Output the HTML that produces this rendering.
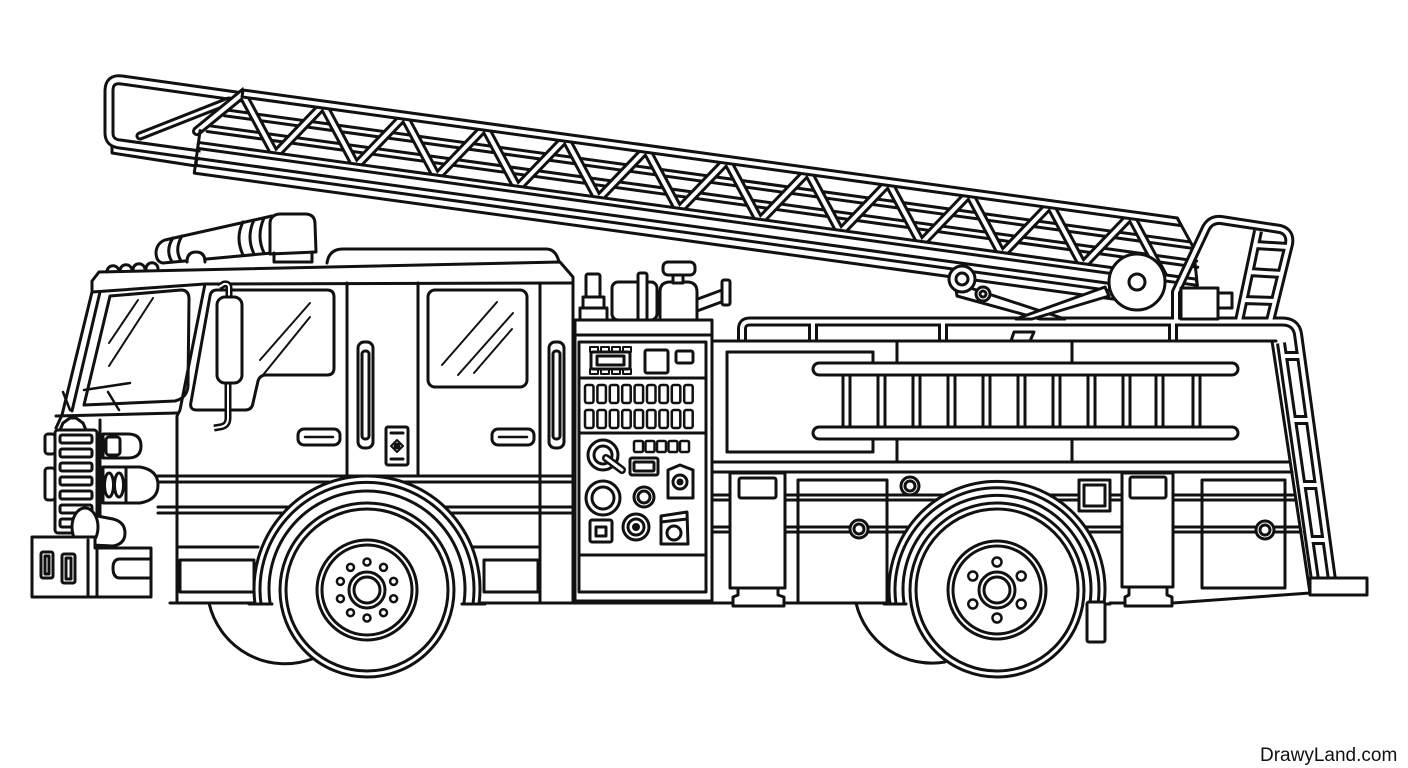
<!DOCTYPE html>
<html><head><meta charset="utf-8"><style>
html,body{margin:0;padding:0;background:#fff;}
svg{display:block}
</style></head><body>
<svg width="1408" height="768" viewBox="0 0 1408 768" xmlns="http://www.w3.org/2000/svg">
<defs>
<clipPath id="tc"><polygon points="-45,-3 0,-3 0,6 947,6 968,40 971,59 -45,59"/></clipPath>
</defs>
<rect width="1408" height="768" fill="#fff"/>
<g fill="none" stroke="#111" stroke-width="3" stroke-linejoin="round" stroke-linecap="round">

<!-- ===== LADDER: rear loop ===== -->
<polygon points="112,140 197,152 196,166 112,153" fill="#fff"/>
<path d="M243,97 L122,80 Q109,78 109,91 L109,133 Q109,143 120,144 L200,155" stroke-width="11" stroke-linecap="butt"/>
<path d="M243,97 L122,80 Q109,78 109,91 L109,133 Q109,143 120,144 L200,155" stroke="#fff" stroke-width="5" stroke-linecap="butt"/>
<path d="M140,136 L229,101" stroke-width="9"/>
<path d="M140,136 L229,101" stroke="#fff" stroke-width="3"/>

<!-- ===== LADDER main ===== -->
<g transform="translate(243,90) rotate(7.8)">
 <path d="M-15,22 L959,22 M-15,28 L963,28 M-30,40 L968,40 M-30,46 L970,46"/>
 <g clip-path="url(#tc)">
  <path d="M-40,47 L0,4 L40.75,60 L81.5,4 L122.25,60 L163,4 L203.75,60 L244.5,4 L285.25,60 L326,4 L366.75,60 L407.5,4 L448.25,60 L489,4 L529.75,60 L570.5,4 L611.25,60 L652,4 L692.75,60 L733.5,4 L774.25,60 L815,4 L855.75,60 L896.5,4 L937.25,60" stroke-width="10" stroke-linejoin="miter"/>
  <path d="M-40,47 L0,4 L40.75,60 L81.5,4 L122.25,60 L163,4 L203.75,60 L244.5,4 L285.25,60 L326,4 L366.75,60 L407.5,4 L448.25,60 L489,4 L529.75,60 L570.5,4 L611.25,60 L652,4 L692.75,60 L733.5,4 L774.25,60 L815,4 L855.75,60 L896.5,4 L937.25,60" stroke="#fff" stroke-width="4" stroke-linejoin="miter"/>
 </g>
 <path d="M0,0 L943,0 L948,7 L0,7 Z" fill="#fff"/>
 <path d="M-37,58 L970,58 L972,64 L-37,64 Z" fill="#fff"/>
 <path d="M943,0 L963,27 L972,64"/>
 <path d="M-37,46 L-37,89 L905,89 M-37,74 L905,74 M-37,81 L905,81"/>
</g>

<!-- ===== CAB ===== -->
<!-- light bar -->
<path d="M165,240 L272,216 L272,253 L163,263 Q156,262 156,252 Q157,243 165,240 Z" fill="#fff"/>
<path d="M270,254 L270,224 Q270,214 281,214 L305,214 Q315,214 315,224 L316,252 Z" fill="#fff"/>
<path d="M274,253 L274,262 L312,262 L312,252"/>
<path d="M173,238 Q165,250 172,262 M182,236 Q174,249 181,261 M243,222 Q235,238 243,255 M254,220 Q246,237 254,254 M264,218 Q256,236 264,253"/>
<path d="M187,262 Q187,252 196,252 Q205,252 205,262" fill="#fff"/>
<path d="M107,272 a6,6 0 0 1 12,-0.5 M120,271 a6,6 0 0 1 12,-0.5 M133,270 a6,6 0 0 1 12,-0.5 M146,269 a6,6 0 0 1 12,-0.5"/>
<!-- crew cab raised roof -->
<path d="M327,263 Q329,249 343,249 L546,249 Q556,249 559,262"/>
<!-- roof band -->
<path d="M92,292 L92,281 L99,272 L560,262 L573,277 L573,603"/>
<path d="M92,292 L205,284 L573,283"/>
<!-- front edge / pillar -->
<path d="M92,292 L62,415 L56,428"/>
<path d="M100,292 L72,411"/>
<!-- windshield -->
<path d="M110,296 L181,290 Q189,290 189,299 L188,386 Q187,398 175,401 L84,405 Z"/>
<path d="M109,343 L138,300 M109,366 L153,298" stroke-width="2"/>
<path d="M84,390 L130,383 M108,392 L119,410 M63,392 L70,410" stroke-width="2.5"/>
<!-- hood line & door -->
<path d="M56,416 L177,413"/>
<path d="M205,284 L180,410 L177,416 L177,603"/>
<!-- side window -->
<path d="M217,290 L327,290 Q334,290 334,297 L334,368 Q334,375 327,375 L266,375 Q260,375 258,381 L253,403 Q252,410 245,410 L197,410 Q189,410 191,402 L210,296 Q211,290 217,290 Z"/>
<path d="M260,360 L310,303 M263,375 L310,317" stroke-width="2"/>
<!-- mirror -->
<path d="M229,297 L229,288 Q229,283 224,284 L219,287 M228,383 L228,418 Q228,426 220,427 L214,428" stroke-width="7" stroke-linecap="butt"/>
<path d="M229,297 L229,288 Q229,283 224,284 L219,287 M228,383 L228,418 Q228,426 220,427 L214,428" stroke="#fff" stroke-width="2" stroke-linecap="butt"/>
<rect x="217" y="297" width="25" height="86" rx="8" fill="#fff"/>
<!-- driver door handle -->
<rect x="298" y="429" width="42" height="16" rx="6"/>
<path d="M305,437 L333,437" stroke-width="2.5"/>
<!-- grille -->
<path d="M60,430 L63,423 L70,418 L76,418 L83,423 L86,430"/>
<rect x="55" y="430" width="42" height="103" rx="3" fill="#fff"/>
<rect x="60" y="435" width="32" height="8" rx="2"/>
<rect x="60" y="449" width="32" height="8" rx="2"/>
<rect x="60" y="463" width="32" height="8" rx="2"/>
<rect x="60" y="477" width="32" height="8" rx="2"/>
<rect x="60" y="491" width="32" height="8" rx="2"/>
<rect x="60" y="505" width="32" height="8" rx="2"/>
<rect x="60" y="519" width="32" height="8" rx="2"/>
<rect x="45" y="434" width="10" height="20" rx="3"/>
<rect x="45" y="468" width="10" height="32" rx="3"/>
<path d="M100,420 L100,537"/>
<!-- lights -->
<path d="M103,434 L128,434 Q141,434 141,446 Q141,458 128,458 L103,458 Z" fill="#fff"/>
<rect x="106" y="437" width="14" height="18" rx="3"/>
<path d="M103,467 L140,467 Q158,470 158,485 Q158,500 140,503 L103,503 Z" fill="#fff"/>
<ellipse cx="109" cy="485" rx="4.5" ry="12"/>
<ellipse cx="119" cy="485" rx="4.5" ry="12"/>
<path d="M126,468 L126,502"/>
<!-- cab stripes -->
<path d="M158,476 L573,476 M158,482 L573,482 M158,507 L573,507 M158,513 L573,513"/>
<!-- fog light -->
<path d="M92,515 L113,519 Q125,522 125,533 Q125,544 113,546 L92,545 Z" fill="#fff"/>
<ellipse cx="85" cy="527" rx="13" ry="19" fill="#fff"/>
<!-- bumper -->
<path d="M32,537 L95,537 L95,548 L151,548 L151,597 L32,597 Z" fill="#fff"/>
<path d="M88,540 L88,597 M97,548 L97,597"/>
<rect x="41" y="552" width="12" height="26" rx="2"/>
<rect x="45" y="556" width="4" height="18"/>
<rect x="62" y="554" width="13" height="29" rx="2"/>
<rect x="66" y="558" width="5" height="21"/>
<path d="M150,559 L120,559 Q113,559 113,568 Q113,578 120,578 L150,578"/>
<!-- cab lower -->
<path d="M177,547 L258,547"/>
<rect x="180" y="560" width="74" height="32"/>
<path d="M170,603 L258,603"/>
<path d="M466,547 L540,547"/>
<rect x="484" y="560" width="54" height="32"/>
<path d="M463,603 L712,603"/>
<!-- crew cab -->
<path d="M347,283 L347,476 M418,283 L418,476 M540,283 L540,603"/>
<rect x="428" y="290" width="99" height="97" rx="7"/>
<path d="M442,365 L497,302 M458,375 L513,313 M474,373 L512,329" stroke-width="2"/>
<rect x="358" y="342" width="15" height="106" rx="6" fill="#fff"/>
<rect x="362" y="351" width="7" height="88" rx="3"/>
<rect x="549" y="342" width="15" height="106" rx="6" fill="#fff"/>
<rect x="553" y="351" width="7" height="88" rx="3"/>
<rect x="386" y="427" width="22" height="38" rx="2"/>
<path d="M391,433 L403,433 M391,459 L403,459"/>
<path d="M397,440 L403,446 L397,452 L391,446 Z" stroke-width="2"/>
<circle cx="397" cy="446" r="2" fill="#111"/>
<rect x="492" y="429" width="42" height="16" rx="6"/>
<path d="M499,437 L527,437" stroke-width="2.5"/>

<!-- ===== REAR BODY ===== -->
<rect x="727" y="352" width="146" height="100"/>
<path d="M897,341 L897,462 M1072,341 L1072,462"/>
<path d="M712,462 L1290,462 M712,472 L1292,472"/>
<path d="M712,495 L1295,495 M712,500 L1296,500 M712,527 L1300,527 M712,532 L1301,532"/>
<rect x="798" y="480" width="89" height="123"/>
<rect x="1202" y="480" width="83" height="108"/>
<path d="M712,603 L884,603 M1110,603 L1173,603 L1310,593"/>
<!-- side ladder -->
<rect x="813" y="363" width="425" height="76" fill="#fff" stroke="none"/>
<rect x="813" y="363" width="425" height="12" rx="6" fill="#fff"/>
<rect x="813" y="427" width="425" height="12" rx="6" fill="#fff"/>
<rect x="843" y="375" width="7" height="52" fill="#fff"/>
<rect x="878" y="375" width="7" height="52" fill="#fff"/>
<rect x="913" y="375" width="7" height="52" fill="#fff"/>
<rect x="948" y="375" width="7" height="52" fill="#fff"/>
<rect x="983" y="375" width="7" height="52" fill="#fff"/>
<rect x="1018" y="375" width="7" height="52" fill="#fff"/>
<rect x="1053" y="375" width="7" height="52" fill="#fff"/>
<rect x="1088" y="375" width="7" height="52" fill="#fff"/>
<rect x="1123" y="375" width="7" height="52" fill="#fff"/>
<rect x="1156" y="375" width="7" height="52" fill="#fff"/>
<rect x="1193" y="375" width="7" height="52" fill="#fff"/>

<!-- tubes: handrail, ladder tip frame, rear ladder -->
<path d="M742,342 L742,329 Q742,321.5 750,321.5 L1282,321.5 Q1296,321.5 1298,334 L1332,580 M813,322 L813,341 M943,322 L943,341 M1173,322 L1173,341 M1281,343 L1315,580 M1283,356 L1301,356 M1292,420 L1310,420 M1301,485 L1319,485 M1309,540 L1326,540 M1176,321 L1176,292 L1206,228 Q1211,219 1221,220 L1280,229 Q1291,232 1289,244 L1270,321 M1258,231 L1239,321 M1255,245 L1288,247 M1249,272 L1282,274 M1243,300 L1275,301" stroke-width="10" stroke-linecap="butt"/>
<path d="M742,342 L742,329 Q742,321.5 750,321.5 L1282,321.5 Q1296,321.5 1298,334 L1332,580 M813,322 L813,341 M943,322 L943,341 M1173,322 L1173,341 M1281,343 L1315,580 M1283,356 L1301,356 M1292,420 L1310,420 M1301,485 L1319,485 M1309,540 L1326,540 M1176,321 L1176,292 L1206,228 Q1211,219 1221,220 L1280,229 Q1291,232 1289,244 L1270,321 M1258,231 L1239,321 M1255,245 L1288,247 M1249,272 L1282,274 M1243,300 L1275,301" stroke="#fff" stroke-width="4" stroke-linecap="butt"/>
<path d="M712,341 L1276,341 M1272,341 L1310,593"/>

<!-- hydraulic link, pivot, block -->
<polygon points="955,283 1065,319 1040,319 957,296" fill="#fff"/>
<polygon points="1016,319 1105,287 1109,296 1032,319" fill="#fff"/>
<polygon points="1011,341 1014,332 1034,332 1030,341" fill="#fff"/>
<circle cx="962" cy="279" r="13" fill="#fff"/>
<circle cx="962" cy="279" r="6"/>
<circle cx="983" cy="294" r="7" fill="#fff"/>
<circle cx="983" cy="294" r="3"/>
<circle cx="1137" cy="282" r="28" fill="#fff"/>
<circle cx="1137" cy="282" r="8"/>
<rect x="1181" y="288" width="37" height="31" fill="#fff"/>
<rect x="1218" y="293" width="14" height="15" fill="#fff"/>

<!-- ===== PUMP PANEL ===== -->
<!-- valves on top -->
<rect x="586" y="274" width="14" height="23" rx="2" fill="#fff"/>
<rect x="583" y="297" width="21" height="11" fill="#fff"/>
<rect x="580" y="308" width="27" height="12" fill="#fff"/>
<rect x="612" y="282" width="45" height="38" rx="6" fill="#fff"/>
<rect x="638" y="273" width="9" height="47" rx="2" fill="#fff"/>
<path d="M695,300 L722,290 M697,311 L724,301"/>
<rect x="722" y="280" width="8" height="25" rx="2" fill="#fff"/>
<path d="M660,320 L660,292 Q660,282 670,282 L687,282 Q697,282 697,292 L697,320" fill="#fff"/>
<rect x="673" y="274" width="10" height="9" fill="#fff"/>
<rect x="663" y="262" width="32" height="13" rx="5" fill="#fff"/>
<!-- panel body -->
<rect x="575" y="320" width="137" height="281" fill="#fff"/>
<path d="M575,335 L712,335"/>
<rect x="579" y="342" width="127" height="250"/>
<path d="M579,378 L706,378 M579,433 L706,433 M579,555 L706,555"/>
<!-- chip -->
<rect x="591" y="352" width="39" height="17" rx="2"/>
<rect x="597" y="356" width="27" height="9"/>
<path d="M590,347 h8 v5 h-8 z M601,347 h8 v5 h-8 z M612,347 h8 v5 h-8 z M623,347 h8 v5 h-8 z M590,369 h8 v5 h-8 z M601,369 h8 v5 h-8 z M612,369 h8 v5 h-8 z M623,369 h8 v5 h-8 z" stroke-width="2"/>
<rect x="645" y="350" width="23" height="23" rx="2"/>
<rect x="676" y="351" width="17" height="12" rx="2"/>
<!-- switch rows -->
<g stroke-width="2.5">
<rect x="585" y="385" width="8.5" height="18" rx="2"/><rect x="597.4" y="385" width="8.5" height="18" rx="2"/><rect x="609.8" y="385" width="8.5" height="18" rx="2"/><rect x="622.2" y="385" width="8.5" height="18" rx="2"/><rect x="634.6" y="385" width="8.5" height="18" rx="2"/><rect x="647" y="385" width="8.5" height="18" rx="2"/><rect x="659.4" y="385" width="8.5" height="18" rx="2"/><rect x="671.8" y="385" width="8.5" height="18" rx="2"/><rect x="684.2" y="385" width="8.5" height="18" rx="2"/>
<rect x="585" y="410" width="8.5" height="18" rx="2"/><rect x="597.4" y="410" width="8.5" height="18" rx="2"/><rect x="609.8" y="410" width="8.5" height="18" rx="2"/><rect x="622.2" y="410" width="8.5" height="18" rx="2"/><rect x="634.6" y="410" width="8.5" height="18" rx="2"/><rect x="647" y="410" width="8.5" height="18" rx="2"/><rect x="659.4" y="410" width="8.5" height="18" rx="2"/><rect x="671.8" y="410" width="8.5" height="18" rx="2"/><rect x="684.2" y="410" width="8.5" height="18" rx="2"/>
<rect x="634" y="441" width="9" height="11" rx="1.5"/><rect x="645.5" y="441" width="9" height="11" rx="1.5"/><rect x="657" y="441" width="9" height="11" rx="1.5"/><rect x="668.5" y="441" width="9" height="11" rx="1.5"/><rect x="680" y="441" width="9" height="11" rx="1.5"/>
</g>
<!-- knobs -->
<circle cx="603" cy="455" r="15" fill="#fff"/>
<circle cx="603" cy="455" r="9"/>
<path d="M606,458 L622,470" stroke-width="8"/>
<path d="M606,458 L622,470" stroke="#fff" stroke-width="3"/>
<rect x="630" y="458" width="28" height="17" rx="2"/>
<rect x="634" y="462" width="20" height="9" rx="1"/>
<path d="M668,470 L680,465 L693,470 L693,498 L668,498 Z"/>
<circle cx="680" cy="482" r="7"/>
<circle cx="680" cy="482" r="2" fill="#111"/>
<circle cx="603" cy="498" r="17"/>
<circle cx="603" cy="498" r="11"/>
<circle cx="644" cy="497" r="10"/>
<circle cx="644" cy="497" r="6"/>
<rect x="590" y="520" width="22" height="22" rx="2"/>
<rect x="596" y="527" width="10" height="9"/>
<circle cx="636" cy="527" r="13"/>
<circle cx="636" cy="527" r="8"/>
<circle cx="636" cy="527" r="2.5" fill="#111"/>
<path d="M661,516 L687,512 L688,544 L661,544 Z M661,522 L687,519"/>
<circle cx="674" cy="533" r="7"/>

<!-- ===== lower body items ===== -->
<rect x="730" y="473" width="55" height="115" fill="#fff"/>
<rect x="739" y="478" width="37" height="20" rx="2"/>
<path d="M738,588 L778,588 L778,595 L784,597 L784,606 L733,606 L733,597 L738,595 Z" fill="#fff"/>
<rect x="1122" y="473" width="51" height="114" fill="#fff"/>
<rect x="1130" y="477" width="36" height="21" rx="2"/>
<path d="M1129,587 L1167,587 L1167,595 L1172,597 L1172,606 L1125,606 L1125,597 L1129,595 Z" fill="#fff"/>
<rect x="1079" y="480" width="31" height="31" fill="#fff"/>
<rect x="1084" y="485" width="21" height="21"/>
<circle cx="910" cy="486" r="9" fill="#fff"/><circle cx="910" cy="486" r="5"/>
<circle cx="859" cy="529" r="9" fill="#fff"/><circle cx="859" cy="529" r="5"/>
<circle cx="1265" cy="530" r="9" fill="#fff"/><circle cx="1265" cy="530" r="5"/>

<!-- ===== FRONT WHEEL ===== -->
<path d="M255,604 A113,113 0 1 1 479,604" fill="#fff"/>
<path d="M261,604 A107,107 0 1 1 473,604"/>
<path d="M270,603 A98,98 0 1 1 464,603"/>
<path d="M249,604 L272,604 M462,604 L485,604"/>
<path d="M209,603 A78,78 0 0 0 312,659"/>
<circle cx="367" cy="590" r="87" fill="#fff"/>
<circle cx="367" cy="590" r="81"/>
<circle cx="367" cy="590" r="50"/>
<circle cx="367" cy="590" r="45"/>
<circle cx="367" cy="590" r="18"/>
<circle cx="367" cy="590" r="13"/>
<g stroke-width="2.5">
<circle cx="367" cy="562" r="3.5"/><circle cx="383.5" cy="567.4" r="3.5"/><circle cx="393.6" cy="581.4" r="3.5"/><circle cx="393.6" cy="598.7" r="3.5"/><circle cx="383.5" cy="612.7" r="3.5"/><circle cx="367" cy="618" r="3.5"/><circle cx="350.5" cy="612.7" r="3.5"/><circle cx="340.4" cy="598.7" r="3.5"/><circle cx="340.4" cy="581.4" r="3.5"/><circle cx="350.5" cy="567.4" r="3.5"/>
</g>

<!-- ===== REAR WHEEL ===== -->
<path d="M890,604 A108,108 0 1 1 1104,604" fill="#fff"/>
<path d="M896,604 A102,102 0 1 1 1098,604"/>
<path d="M904,603 A94,94 0 1 1 1090,603"/>
<path d="M884,604 L906,604 M1088,604 L1110,604"/>
<path d="M856,603 A78,78 0 0 0 945,662"/>
<rect x="1087" y="602" width="18" height="40" rx="2" fill="#fff"/>
<circle cx="997" cy="590" r="87" fill="#fff"/>
<circle cx="997" cy="590" r="81"/>
<circle cx="997" cy="590" r="49"/>
<circle cx="997" cy="590" r="44"/>
<circle cx="997" cy="590" r="18"/>
<circle cx="997" cy="590" r="13"/>
<g stroke-width="2.5">
<circle cx="997" cy="562" r="4.5"/><circle cx="1021.2" cy="576" r="4.5"/><circle cx="1021.2" cy="604" r="4.5"/><circle cx="997" cy="618" r="4.5"/><circle cx="972.8" cy="604" r="4.5"/><circle cx="972.8" cy="576" r="4.5"/>
</g>

<!-- rear step -->
<rect x="1310" y="578" width="57" height="17" fill="#fff"/>
</g>
<text x="1260" y="761" font-family="Liberation Sans, Arial, sans-serif" font-size="19" fill="#111">DrawyLand.com</text>
</svg>
</body></html>
